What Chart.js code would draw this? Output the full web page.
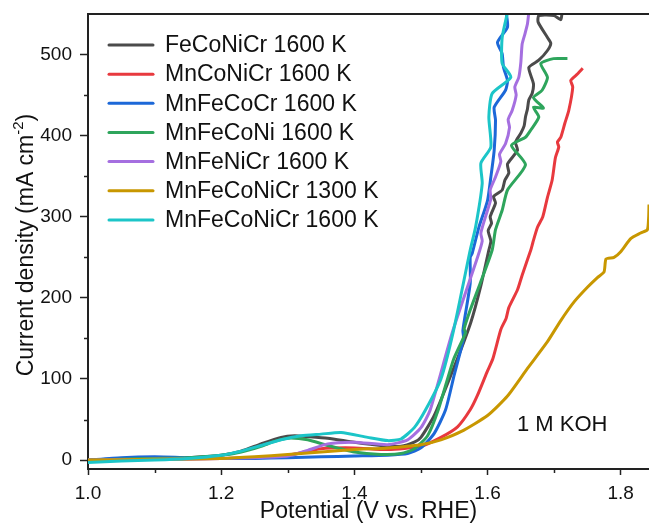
<!DOCTYPE html>
<html>
<head>
<meta charset="utf-8">
<style>
  html, body { margin: 0; padding: 0; background: #fff; }
  #wrap { width: 649px; height: 524px; }
</style>
</head>
<body>
<div id="wrap"><canvas id="lsvChart" width="649" height="524"></canvas></div>

<script src="https://cdn.jsdelivr.net/npm/chart.js"></script>
<script>
// series labels and colours (legend order)
var seriesLabels = ['FeCoNiCr 1600 K', 'MnCoNiCr 1600 K', 'MnFeCoCr 1600 K', 'MnFeCoNi 1600 K',
                    'MnFeNiCr 1600 K', 'MnFeCoNiCr 1300 K', 'MnFeCoNiCr 1600 K'];
var seriesColors = ['#4b4b4b', '#e8393e', '#1c68d8', '#2ea55c', '#a56fe0', '#c89700', '#1cc5c8'];

// potential (V vs. RHE) and current density (mA cm-2)
var feCoNiCrV = [1.00, 1.05, 1.10, 1.15, 1.20, 1.23, 1.26, 1.29, 1.31, 1.33, 1.36, 1.40, 1.44, 1.47, 1.49, 1.50,
                 1.52, 1.55, 1.575, 1.59, 1.602, 1.605, 1.601, 1.606, 1.604, 1.612, 1.609, 1.622, 1.626, 1.632,
                 1.630, 1.645, 1.642, 1.65, 1.655, 1.657, 1.66, 1.662, 1.667, 1.669, 1.662, 1.677, 1.69, 1.695,
                 1.69, 1.676, 1.677, 1.70, 1.71, 1.712];
var feCoNiCrJ = [0, 1, 2, 3, 6, 11, 20, 28, 30, 29, 27, 22, 18, 17, 22, 28,
                 55, 115, 170, 215, 259, 270, 283, 292, 300, 317, 325, 333, 345, 354,
                 365, 382, 392, 403, 412, 423, 433, 444, 452, 464, 484, 493, 505, 514,
                 521, 540, 548, 548, 543, 552];

var mnCoNiCrV = [1.00, 1.10, 1.20, 1.25, 1.30, 1.35, 1.40, 1.45, 1.50, 1.53, 1.555, 1.574, 1.585, 1.60, 1.608,
                 1.62, 1.628, 1.632, 1.645, 1.652, 1.665, 1.668, 1.675, 1.683, 1.69, 1.697, 1.702, 1.707, 1.705,
                 1.71, 1.716, 1.722, 1.728, 1.725, 1.735, 1.743];
var mnCoNiCrJ = [0, 1, 2, 3, 6, 14, 15, 13, 17, 28, 41, 62, 80, 110, 125,
                 161, 175, 188, 210, 228, 259, 268, 287, 300, 324, 345, 373, 386, 392,
                 398, 415, 431, 460, 468, 476, 483];

var mnFeCoCrV = [1.00, 1.05, 1.10, 1.15, 1.20, 1.25, 1.30, 1.35, 1.40, 1.45, 1.48, 1.50, 1.52, 1.537, 1.55,
                 1.564, 1.563, 1.574, 1.574, 1.577, 1.587, 1.60, 1.605, 1.61, 1.612, 1.61, 1.627, 1.63, 1.624,
                 1.622, 1.615, 1.63, 1.628];
var mnFeCoCrJ = [0, 3, 4, 3, 2, 2, 3, 4, 5, 6, 8, 15, 33, 62, 105,
                 150, 160, 218, 250, 255, 287, 320, 349, 382, 419, 435, 456, 468, 484,
                 501, 515, 534, 552];

var mnFeCoNiV = [1.00, 1.05, 1.10, 1.15, 1.20, 1.23, 1.26, 1.28, 1.30, 1.33, 1.36, 1.40, 1.44, 1.47, 1.49,
                 1.51, 1.526, 1.549, 1.567, 1.565, 1.574, 1.589, 1.607, 1.612, 1.622, 1.630, 1.657, 1.636,
                 1.657, 1.665, 1.677, 1.669, 1.684, 1.669, 1.682, 1.690, 1.680, 1.699, 1.72];
var mnFeCoNiJ = [0, 1, 2, 3, 6, 10, 17, 23, 27, 25, 18, 10, 7, 8, 14,
                 30, 62, 124, 157, 162, 185, 218, 259, 284, 308, 333, 364, 388,
                 398, 407, 423, 435, 434, 447, 456, 472, 489, 495, 495];

var mnFeNiCrV = [1.00, 1.10, 1.20, 1.25, 1.30, 1.33, 1.36, 1.40, 1.45, 1.48, 1.50, 1.514, 1.547, 1.585,
                 1.592, 1.590, 1.60, 1.605, 1.604, 1.612, 1.62, 1.618, 1.627, 1.633, 1.631, 1.637, 1.643,
                 1.641, 1.647, 1.650, 1.652, 1.656, 1.66, 1.662];
var mnFeNiCrJ = [0, 1, 2, 3, 5, 12, 20, 22, 19, 25, 40, 62, 157, 250,
                 270, 280, 308, 322, 333, 349, 368, 377, 390, 410, 420, 431, 450,
                 460, 472, 490, 513, 525, 538, 552];

var mnFeCoNiCr1300V = [1.00, 1.10, 1.20, 1.25, 1.30, 1.35, 1.40, 1.45, 1.50, 1.53, 1.56, 1.60, 1.63, 1.66,
                       1.69, 1.71, 1.73, 1.75, 1.765, 1.775, 1.778, 1.79, 1.80, 1.815, 1.83, 1.84, 1.842, 1.8425];
var mnFeCoNiCr1300J = [0, 1, 2, 4, 7, 10, 13, 15, 19, 25, 35, 55, 79, 113,
                       146, 172, 195, 213, 225, 232, 248, 250, 257, 273, 280, 284, 300, 315];

var mnFeCoNiCr1600V = [1.00, 1.05, 1.10, 1.15, 1.20, 1.23, 1.26, 1.29, 1.32, 1.35, 1.38, 1.42, 1.45, 1.47,
                       1.49, 1.507, 1.53, 1.549, 1.574, 1.582, 1.592, 1.59, 1.605, 1.602, 1.607, 1.635,
                       1.622, 1.622, 1.63];
var mnFeCoNiCr1600J = [-3, -1, 0, 2, 6, 11, 18, 25, 30, 32, 34, 28, 24, 26,
                       40, 62, 100, 160, 259, 287, 341, 366, 386, 423, 452, 472,
                       489, 521, 552];

var xTicks = [1.0, 1.2, 1.4, 1.6, 1.8];
var xMinorTicks = [1.1, 1.3, 1.5, 1.7];
var yTicks = [0, 100, 200, 300, 400, 500];
var yMinorTicks = [50, 150, 250, 350, 450];

var allV = [feCoNiCrV, mnCoNiCrV, mnFeCoCrV, mnFeCoNiV, mnFeNiCrV, mnFeCoNiCr1300V, mnFeCoNiCr1600V];
var allJ = [feCoNiCrJ, mnCoNiCrJ, mnFeCoCrJ, mnFeCoNiJ, mnFeNiCrJ, mnFeCoNiCr1300J, mnFeCoNiCr1600J];

var FONT = '"Liberation Sans", Arial, sans-serif';

var datasets = seriesLabels.map(function (label, i) {
    return {
        label: label,
        data: allV[i].map(function (v, k) { return {x: v, y: allJ[i][k]}; }),
        borderColor: seriesColors[i],
        backgroundColor: seriesColors[i],
        borderWidth: 3,
        pointRadius: 0,
        showLine: true,
        tension: 0.2,
        fill: false,
        order: seriesLabels.length - i   // later series drawn on top
    };
});

// minor ticks, top frame line, y title, legend and annotation
var extrasPlugin = {
    id: 'extras',
    afterDraw: function (chart) {
        var ctx = chart.ctx;
        var area = chart.chartArea;
        var xs = chart.scales.x, ys = chart.scales.y;
        ctx.save();
        ctx.strokeStyle = '#222';
        ctx.lineWidth = 1.5;
        xMinorTicks.forEach(function (v) {
            var px = Math.round(xs.getPixelForValue(v)) + 0.5;
            ctx.beginPath();
            ctx.moveTo(px, area.bottom);
            ctx.lineTo(px, area.bottom + 4);
            ctx.stroke();
        });
        yMinorTicks.forEach(function (v) {
            var py = Math.round(ys.getPixelForValue(v)) + 0.5;
            ctx.beginPath();
            ctx.moveTo(area.left, py);
            ctx.lineTo(area.left - 4, py);
            ctx.stroke();
        });
        // top frame
        ctx.lineWidth = 2;
        ctx.beginPath();
        ctx.moveTo(area.left, area.top);
        ctx.lineTo(area.right, area.top);
        ctx.stroke();

        // y axis title with superscript
        ctx.fillStyle = '#111';
        ctx.translate(26, 245);
        ctx.rotate(-Math.PI / 2);
        var main = 'Current density (mA cm', sup = '-2', close = ')';
        ctx.font = '23px ' + FONT;
        var w1 = ctx.measureText(main).width, w3 = ctx.measureText(close).width;
        ctx.font = '15px ' + FONT;
        var w2 = ctx.measureText(sup).width;
        var start = -(w1 + w2 + w3) / 2;
        ctx.textBaseline = 'middle';
        ctx.textAlign = 'left';
        ctx.font = '23px ' + FONT;
        ctx.fillText(main, start, 1);
        ctx.fillText(close, start + w1 + w2, 1);
        ctx.font = '15px ' + FONT;
        ctx.fillText(sup, start + w1, -7);
        ctx.setTransform(1, 0, 0, 1, 0, 0);

        // legend
        ctx.font = '23px ' + FONT;
        ctx.textBaseline = 'middle';
        ctx.textAlign = 'left';
        seriesLabels.forEach(function (label, i) {
            var y = 45 + i * 29.15;
            ctx.strokeStyle = seriesColors[i];
            ctx.lineWidth = 3;
            ctx.lineCap = 'round';
            ctx.beginPath();
            ctx.moveTo(109, y);
            ctx.lineTo(153, y);
            ctx.stroke();
            ctx.fillStyle = '#111';
            ctx.fillText(label, 165, y + 1);
        });

        ctx.font = '22px ' + FONT;
        ctx.fillStyle = '#111';
        ctx.fillText('1 M KOH', 517, 425);
        ctx.restore();
    }
};

new Chart(document.getElementById('lsvChart').getContext('2d'), {
    type: 'scatter',
    data: { datasets: datasets },
    options: {
        responsive: false,
        animation: false,
        layout: { padding: { top: 14, right: 0, left: 0, bottom: 0 } },
        plugins: {
            legend: { display: false },
            tooltip: { enabled: false }
        },
        scales: {
            x: {
                type: 'linear',
                min: 1.0,
                max: 1.8425,
                afterBuildTicks: function (scale) {
                    scale.ticks = xTicks.map(function (v) { return {value: v}; });
                },
                afterFit: function (scale) {
                    scale.height = 55;
                    scale.paddingLeft = 0;
                    scale.paddingRight = 0;
                },
                ticks: {
                    color: '#111',
                    font: { family: FONT, size: 19 },
                    padding: 7,
                    maxRotation: 0,
                    callback: function (v) { return v.toFixed(1); }
                },
                grid: {
                    drawOnChartArea: false,
                    drawTicks: true,
                    tickLength: 6,
                    tickWidth: 1.5,
                    tickColor: '#222'
                },
                border: { color: '#222', width: 2 },
                title: {
                    display: true,
                    text: 'Potential (V vs. RHE)',
                    color: '#111',
                    font: { family: FONT, size: 23, lineHeight: 1 },
                    padding: { top: 0, bottom: 1 }
                }
            },
            y: {
                type: 'linear',
                min: -11,
                max: 550,
                afterBuildTicks: function (scale) {
                    scale.ticks = yTicks.map(function (v) { return {value: v}; });
                },
                afterFit: function (scale) {
                    scale.width = 88;
                    scale.paddingTop = 0;
                    scale.paddingBottom = 0;
                },
                ticks: {
                    color: '#111',
                    font: { family: FONT, size: 19 },
                    padding: 8
                },
                grid: {
                    drawOnChartArea: false,
                    drawTicks: true,
                    tickLength: 8,
                    tickWidth: 1.5,
                    tickColor: '#222'
                },
                border: { color: '#222', width: 2 },
                title: { display: false }
            }
        }
    },
    plugins: [extrasPlugin]
});
</script>
</body>
</html>
